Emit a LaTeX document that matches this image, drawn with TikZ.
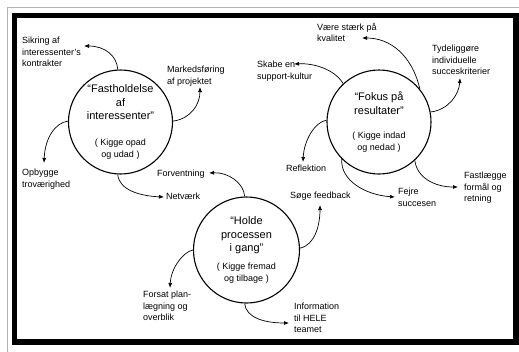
\documentclass[tikz,border=0pt]{standalone}
\usepackage{fontspec}
\setmainfont{Liberation Sans}
\usetikzlibrary{arrows.meta}
\begin{document}
\begin{tikzpicture}[x=1pt,y=-1pt,
  circ/.style={circle,draw=black,line width=1.1pt,minimum size=104pt,inner sep=0pt,align=center,font=\fontsize{11}{13.5}\selectfont},
  sub/.style={font=\fontsize{9}{12}\selectfont},
  lbl/.style={anchor=north west,inner sep=0pt,align=left,font=\fontsize{9}{11.3}\selectfont},
  arr/.style={line width=0.7pt,-{Latex[length=5pt,width=4pt]}},
]
\useasboundingbox (0,0) rectangle (519,351);
\draw[gray!60,line width=0.8pt] (7.5,7.5) rectangle (530,360);
\draw[line width=5.5pt] (14.5,15.5) rectangle (516,342);

% circles
\node[circ] (c1) at (120.5,122) {“Fastholdelse\\af\\interessenter”\\[12pt]{\fontsize{9}{12}\selectfont ( Kigge opad}\\[-1.5pt]{\fontsize{9}{12}\selectfont og udad )}};
\node[circ] (c2) at (379,122) {“Fokus på\\resultater”\\[11pt]{\fontsize{9}{12}\selectfont ( Kigge indad}\\[-1.5pt]{\fontsize{9}{12}\selectfont og nedad )}};
\node[circ,minimum size=106pt] (c3) at (246.5,250) {“Holde\\processen\\i gang”\\[4pt]{\fontsize{9}{12}\selectfont ( Kigge fremad}\\[-1.5pt]{\fontsize{9}{12}\selectfont og tilbage )}};

% labels
\node[lbl] (sik) at (22,37) {Sikring af\\interessenter's\\kontrakter};
\node[lbl] (mark) at (167,66) {Markedsføring\\af projektet};
\node[lbl] (opb) at (22,169) {Opbygge\\troværighed};
\node[lbl] (net) at (166,193) {Netværk};
\node[lbl] (forv) at (157,170) {Forventning};
\node[lbl] (soge) at (290,192) {Søge feedback};
\node[lbl] (forsat) at (143,291) {Forsat plan-\\lægning og\\overblik};
\node[lbl] (info) at (294,303) {Information\\til HELE\\teamet};
\node[lbl] (vaere) at (317,23) {Være stærk på\\kvalitet};
\node[lbl] (tyd) at (432,45) {Tydeliggøre\\individuelle\\succeskriterier};
\node[lbl] (skabe) at (257,61) {Skabe en\\support-kultur};
\node[lbl] (refl) at (286,165) {Reflektion};
\node[lbl] (fejre) at (398,188) {Fejre\\succesen};
\node[lbl] (fast) at (464,172) {Fastlægge\\formål og\\retning};

% arrow tips
\coordinate (t1) at (84,46);
\coordinate (t2) at (200,87);
\coordinate (t3) at (44,163);
\coordinate (t4) at (164,197);
\coordinate (t5) at (209,173);
\coordinate (t6) at (320,205);
\coordinate (t7) at (170,288);
\coordinate (t8) at (289,323);
\coordinate (t9) at (362,38);
\coordinate (t10) at (460,78);
\coordinate (t11) at (294,64);
\coordinate (t12) at (303,162);
\coordinate (t13) at (395,197);
\coordinate (t14) at (458,187);

% arrows
\draw[arr] (c1.93) .. controls (117,56) and (105,46) .. (t1);
\draw[arr] (c1.1) .. controls (190,119) and (200,105) .. (t2);
\draw[arr] (c1.179) .. controls (55,123) and (45,138) .. (t3);
\draw[arr] (c1.267) .. controls (119,190) and (140,196) .. (t4);
\draw[arr] (c3.92) .. controls (244,183) and (228,172) .. (t5);
\draw[arr] (c3.2) .. controls (315,245) and (320,225) .. (t6);
\draw[arr] (c3.180) .. controls (183,252) and (171,268) .. (t7);
\draw[arr] (c3.268) .. controls (246,318) and (265,323) .. (t8);
\draw[arr] (c2.39) .. controls (412,55) and (390,38) .. (t9);
\draw[arr] (c2.11) .. controls (448,110) and (459,95) .. (t10);
\draw[arr] (c2.133) .. controls (335,70) and (315,63) .. (t11);
\draw[arr] (c2.178) .. controls (315,122) and (304,140) .. (t12);
\draw[arr] (c2.225) .. controls (340,180) and (365,195) .. (t13);
\draw[arr] (c2.313) .. controls (417,178) and (435,187) .. (t14);
\end{tikzpicture}
\end{document}
